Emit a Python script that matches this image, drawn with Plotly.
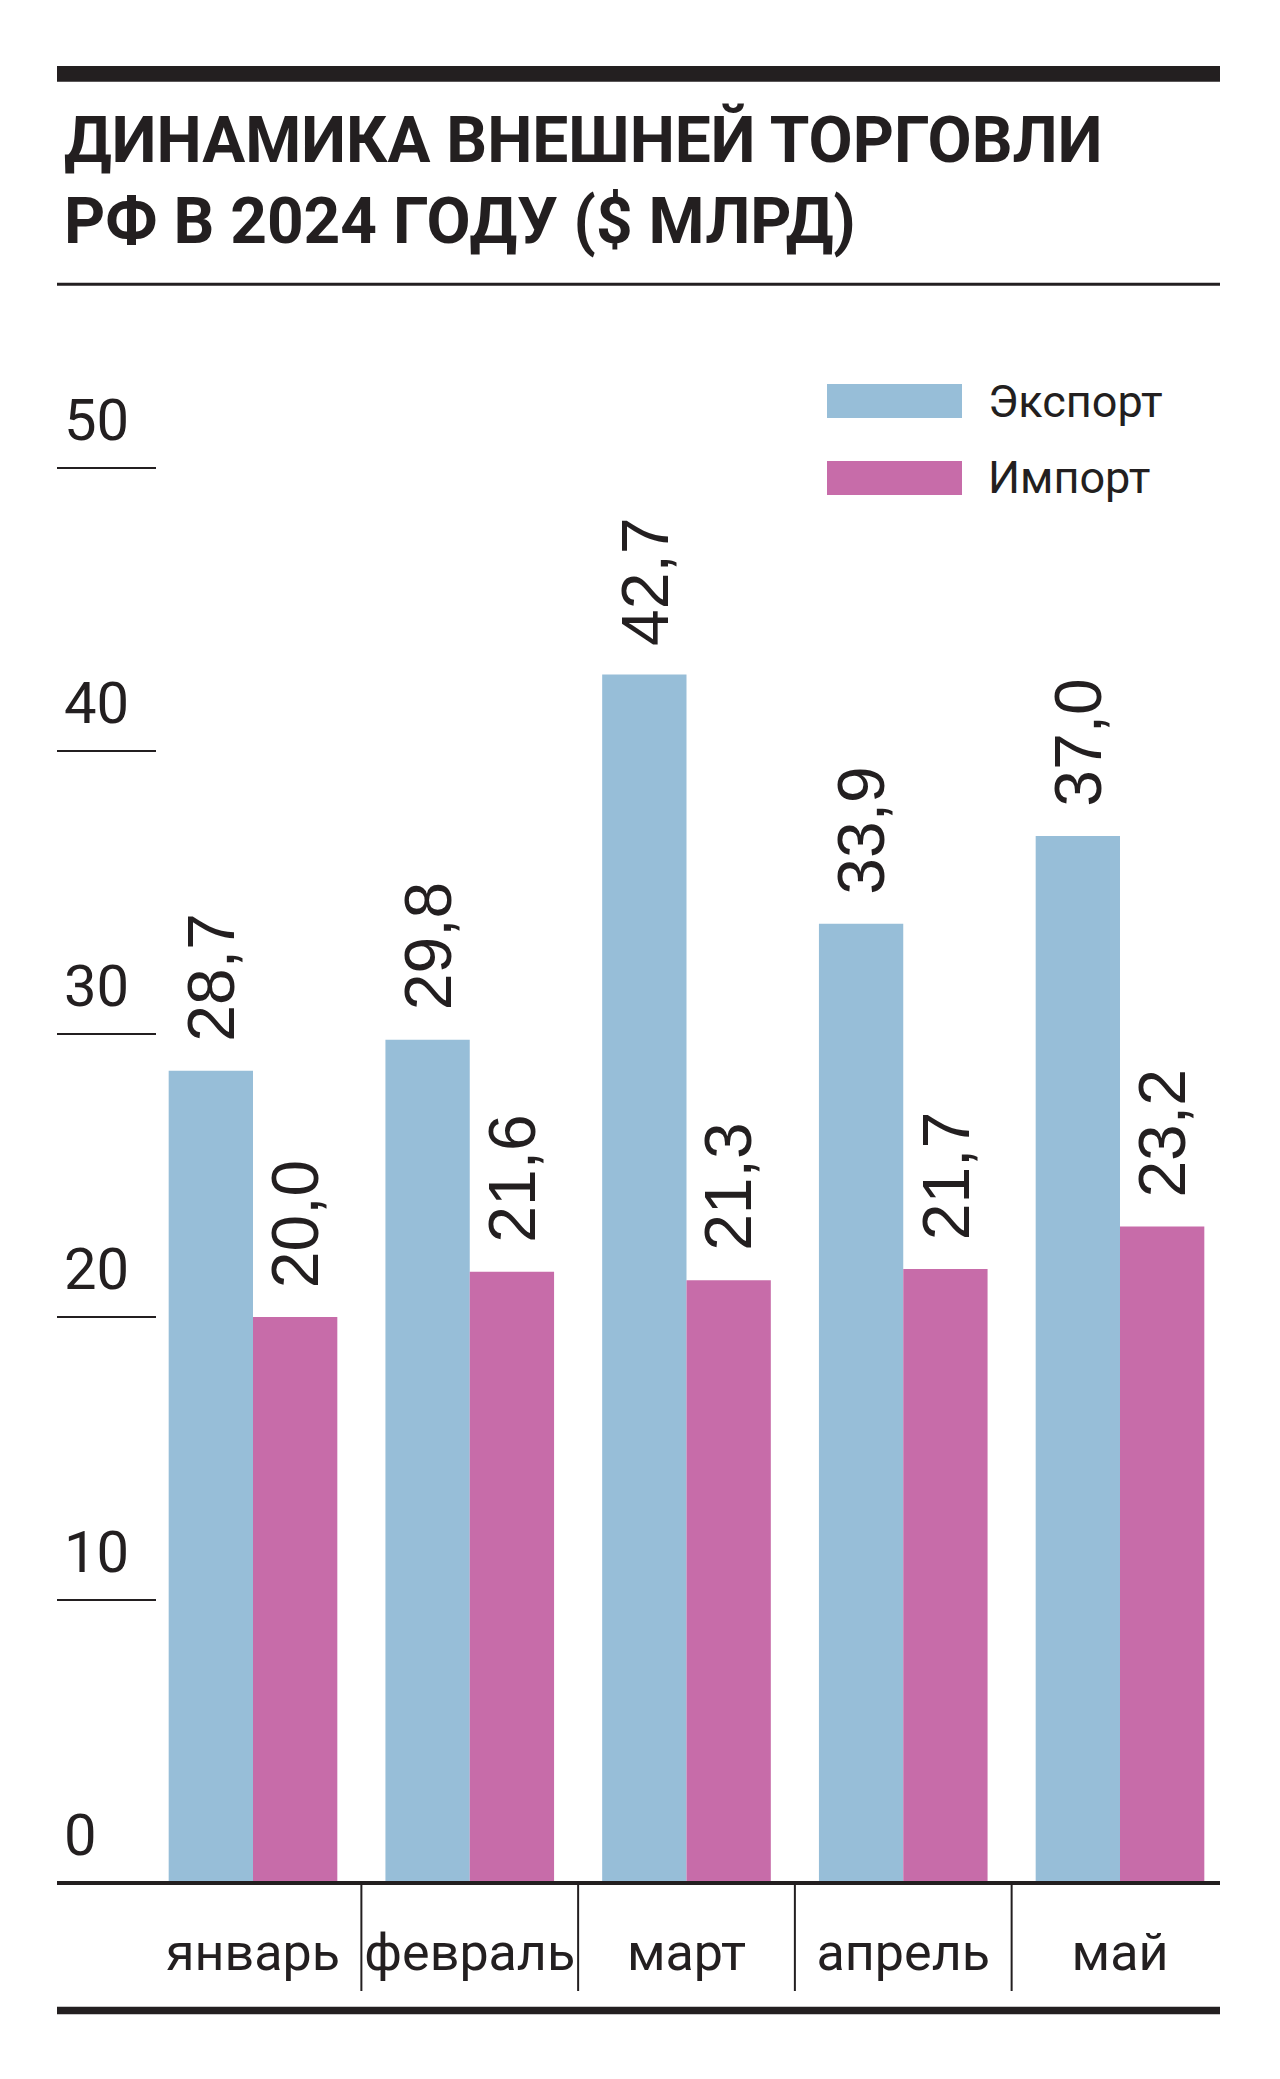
import plotly.graph_objects as go

# ---------------- data ----------------
months = ["январь", "февраль", "март", "апрель", "май"]
export_vals = [28.7, 29.8, 42.7, 33.9, 37.0]
import_vals = [20.0, 21.6, 21.3, 21.7, 23.2]
series_names = ["Экспорт", "Импорт"]
y_tick_vals = [0, 10, 20, 30, 40, 50]
y_tick_labels = ["0", "10", "20", "30", "40", "50"]
title_lines = ["ДИНАМИКА ВНЕШНЕЙ ТОРГОВЛИ", "РФ В 2024 ГОДУ ($ МЛРД)"]

# ---------------- style ----------------
PAGE_OFF = 8                      # default body margin of the html page
W, H = 1280 - 2 * PAGE_OFF, 2079 - 2 * PAGE_OFF
C_EXP = "#97BED8"
C_IMP = "#C76CA9"
INK = "#231F20"
COND = "Roboto, Liberation Sans, Arial, sans-serif"
SANS = "Liberation Sans, Arial, Helvetica, sans-serif"

L_PX, R_PX = 57, 1220            # page pixels
TOP_PX, BOT_PX = 300, 1900
Y0_PX, PPU = 1883, 28.3          # pixel of value 0, pixels per unit
C0_PX, STEP_PX = 253, 216.75     # centre of first group, group spacing
BAR_W = 0.389

n = len(months)
yrange = [-(BOT_PX - Y0_PX) / PPU, (Y0_PX - TOP_PX) / PPU]
xrange = [-(C0_PX - L_PX) / STEP_PX, (n - 1) + (R_PX - (C0_PX + STEP_PX * (n - 1))) / STEP_PX]


def X(px):
    return (px - L_PX) / (R_PX - L_PX)


def Y(py):
    return (BOT_PX - py) / (BOT_PX - TOP_PX)


xs = list(range(n))

fig = go.Figure()
fig.add_trace(go.Bar(x=xs, y=export_vals, name=series_names[0], marker_color=C_EXP,
                     marker_line_width=0, width=BAR_W, offset=-BAR_W, hoverinfo="y"))
fig.add_trace(go.Bar(x=xs, y=import_vals, name=series_names[1], marker_color=C_IMP,
                     marker_line_width=0, width=BAR_W, offset=0, hoverinfo="y"))

annotations = []
# value labels
for vals, off in ((export_vals, -BAR_W / 2), (import_vals, BAR_W / 2)):
    for i, v in enumerate(vals):
        annotations.append(dict(
            x=xs[i] + off, y=v, xref="x", yref="y", text=f"{v:.1f}".replace(".", ","),
            textangle=-90, showarrow=False, xanchor="center", yanchor="bottom", yshift=27,
            font=dict(family=SANS, size=66, color=INK)))
# y tick labels
for v, t in zip(y_tick_vals, y_tick_labels):
    annotations.append(dict(
        x=X(62), y=v, xref="paper", yref="y", text=t, showarrow=False,
        xanchor="left", yanchor="bottom", yshift=12,
        font=dict(family=COND, size=58, color=INK)))
# title
for line, top in zip(title_lines, (101, 182)):
    annotations.append(dict(
        x=X(62), y=Y(top), xref="paper", yref="paper", text=f"<b>{line}</b>", showarrow=False,
        xanchor="left", yanchor="top", font=dict(family=COND, size=64, color=INK)))
# legend
legend_rows = [(series_names[0], C_EXP, 384, 418), (series_names[1], C_IMP, 461, 495)]
shapes = []
for name, col, y_a, y_b in legend_rows:
    shapes.append(dict(type="rect", xref="paper", yref="paper", x0=X(827), x1=X(962),
                       y0=Y(y_b), y1=Y(y_a), fillcolor=col, line_width=0))
    annotations.append(dict(
        x=X(986), y=Y((y_a + y_b) / 2), xref="paper", yref="paper", text=name, showarrow=False,
        xanchor="left", yanchor="middle", font=dict(family=COND, size=45, color=INK)))

# rules
shapes += [
    dict(type="rect", xref="paper", yref="paper", x0=0, x1=1, y0=Y(81.7), y1=Y(66),
         fillcolor=INK, line_width=0),
    dict(type="rect", xref="paper", yref="paper", x0=0, x1=1, y0=Y(285.7), y1=Y(282.7),
         fillcolor=INK, line_width=0),
    dict(type="rect", xref="paper", yref="paper", x0=0, x1=1, y0=Y(2014.3), y1=Y(2006.7),
         fillcolor=INK, line_width=0),
    dict(type="line", xref="paper", yref="y", x0=0, x1=1, y0=0, y1=0,
         line=dict(color=INK, width=4), layer="above"),
]
# separators between months
for i in range(n - 1):
    shapes.append(dict(type="line", xref="x", yref="paper", x0=xs[i] + 0.5, x1=xs[i] + 0.5,
                       y0=Y(1885), y1=Y(1991), line=dict(color=INK, width=2)))

fig.update_layout(
    width=W, height=H,
    margin=dict(l=L_PX - PAGE_OFF, r=W - (R_PX - PAGE_OFF), t=TOP_PX - PAGE_OFF,
                b=H - (BOT_PX - PAGE_OFF), pad=0, autoexpand=False),
    paper_bgcolor="white", plot_bgcolor="white",
    showlegend=False, barmode="group",
    annotations=annotations, shapes=shapes,
    xaxis=dict(range=xrange, tickvals=xs, ticktext=months, showgrid=False, zeroline=False,
               showline=False, ticks="", tickangle=0, ticklabelstandoff=17, automargin=False,
               tickfont=dict(family=COND, size=52, color=INK), fixedrange=True),
    yaxis=dict(range=yrange, tickvals=y_tick_vals, showticklabels=False, showgrid=False,
               zeroline=False, showline=False, ticks="inside", ticklen=99, tickwidth=2,
               tickcolor=INK, automargin=False, fixedrange=True),
)

fig.write_html("out.html")
